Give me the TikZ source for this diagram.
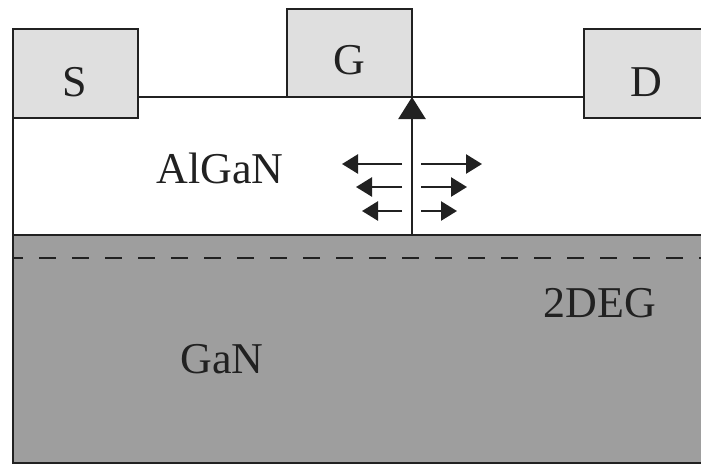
\documentclass[tikz,border=0pt]{standalone}
\usepackage{fontspec}
\setmainfont{Liberation Serif}
\usetikzlibrary{arrows.meta,positioning}

\definecolor{padgray}{gray}{0.875}
\definecolor{gangray}{gray}{0.62}
\definecolor{inkgray}{gray}{0.13}

\begin{document}
\begin{tikzpicture}[x=1pt,y=-1pt,
  every node/.style={font=\fontsize{44}{48}\selectfont, inner sep=0pt, outer sep=0pt, text=inkgray},
  contact/.style={draw=inkgray, line width=2.5pt, fill=padgray, minimum width=125pt, minimum height=89pt, anchor=north west},
  layerline/.style={draw=inkgray, line width=2.5pt},
  fieldline/.style={draw=inkgray, line width=2.5pt, -{Stealth[length=22pt,width=27pt,inset=0pt]}},
  sidearrow/.style={draw=inkgray, line width=2.5pt, -{Stealth[length=16pt,width=19pt,inset=0pt]}}
]
\useasboundingbox (0,0) rectangle (701,464);

% substrate and barrier
\fill[white] (0,0) rectangle (701,464);
\node[layerline, fill=gangray, minimum width=720pt, minimum height=228pt, anchor=north west] (ganbox) at (13,235) {};
\coordinate (topleft) at (13,97);
\coordinate (topright) at (701,97);
\coordinate (ifleft) at (13,235);
\coordinate (degleft) at (13,258);
\coordinate (degright) at (701,258);
\draw[layerline] (topleft) -- (topright);
\draw[layerline] (topleft) -- (ifleft);
\draw[layerline, dash pattern=on 17pt off 16pt, dash phase=7pt] (degleft) -- (degright);

% contacts
\node[contact] (S) at (13,29) {};
\node[contact, minimum height=88pt] (G) at (287,9) {};
\node[contact] (D) at (584,29) {};
\node at (75,82) (Slabel) {S};
\node at (349,60) (Glabel) {G};
\node at (646,82) (Dlabel) {D};

\node (algan) at (220,168) {AlGaN};
\node (gan) at (222,359) {GaN};
\node (deg) at (600,303) {2DEG};

% field arrows
\coordinate (base) at (412,235);
\coordinate (tip) at (412,97);
\draw[fieldline] (base) -- (tip);
\foreach \y/\l/\r in {164/342/482, 187/356/467, 211/362/457} {
  \coordinate (la) at (402,\y);
  \coordinate (lb) at (\l,\y);
  \coordinate (ra) at (421,\y);
  \coordinate (rb) at (\r,\y);
  \draw[sidearrow] (la) -- (lb);
  \draw[sidearrow] (ra) -- (rb);
}
\end{tikzpicture}
\end{document}
